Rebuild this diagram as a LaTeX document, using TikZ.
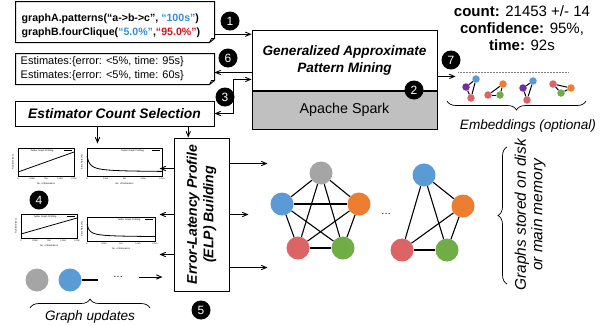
\documentclass[tikz,border=0pt]{standalone}
\usepackage{fontspec}
\setmainfont{Liberation Sans}
\usetikzlibrary{positioning,arrows,calc,decorations.pathreplacing}
\definecolor{vblue}{HTML}{5B9BD5}
\definecolor{vorange}{HTML}{ED7D31}
\definecolor{vgray}{HTML}{A5A5A5}
\definecolor{vred}{HTML}{DC6464}
\definecolor{vgreen}{HTML}{70AD47}
\definecolor{vpurple}{HTML}{7030A0}
\definecolor{qblue}{HTML}{3A8AD0}
\definecolor{qred}{HTML}{D0101B}
\definecolor{spark}{HTML}{C0C0C0}
\tikzset{
    x=1pt,
    y=-1pt,
    >=angle 45,
    block/.style = {
        shape=rectangle,
        inner sep=0pt,
        line width=1pt
    },
    badge/.style = {
        shape=circle,
        fill=black,
        text=white,
        minimum size=19pt,
        inner sep=0pt,
        font=\fontsize{12}{12}\selectfont
    },
    vtx/.style = {
        shape=circle,
        minimum size=23pt,
        inner sep=0pt
    },
    evtx/.style = {
        shape=circle,
        minimum size=7.5pt,
        inner sep=0pt
    },
    edge/.style = {draw, line width=1.1pt},
    link/.style = {draw, line width=0.9pt},
    tinytext/.style = {inner sep=0pt, font=\fontsize{2.3}{2.5}\selectfont},
    pics/rtplot/.style 2 args = {code={
        \draw[line width=0.7pt] (0,0) rectangle (#1,#2);
        \draw[line width=0.8pt] (0,#2-4) -- (#1,4);
        \node[tinytext] at (#1/2-4,2.5) {Twitter Graph Profiling};
        \draw[line width=1pt] (#1-10,2.5) -- (#1-2,2.5);
        \node[tinytext,rotate=90] at (-5,#2/2) {Runtime (sec)};
        \foreach \tk [count=\i from 0] in {0,0.5M,1M,1.5M,2.1M}
            \node[tinytext] at (\i*#1/4,#2+3) {\tk};
        \node[tinytext] at (#1/2,#2+8) {No. of Estimators};
    }},
    pics/errplot/.style 2 args = {code={
        \draw[line width=0.7pt] (0,0) rectangle (#1,#2);
        \draw[line width=0.8pt] plot[domain=0:#1, samples=50] (\x, {#2-4-0.8*(#2-8)/(\x/#1+0.04)/25});
        \node[tinytext] at (#1/2+8,2.5) {Twitter Graph Profiling};
        \draw[line width=1pt] (#1-10,2.5) -- (#1-2,2.5);
        \node[tinytext,rotate=90] at (-5,#2/2) {Error Rate (\%)};
        \foreach \tk [count=\i from 0] in {0,0.5m,1m,1.5m,2.1m}
            \node[tinytext] at (\i*#1/4,#2+3) {\tk};
        \node[tinytext] at (#1/2,#2+8) {No. of Estimators};
    }},
}

\begin{document}
\begin{tikzpicture}
    \useasboundingbox (0,0) rectangle (609,325);

    % boxes on the left
    \node[block, minimum width=198pt, minimum height=40pt] (query) at (115,22) {};
    \node[block, minimum width=198pt, minimum height=30pt] (est) at (115,69) {};
    \node[block, draw, minimum width=199pt, minimum height=25pt,
          font=\fontsize{13.8}{14}\selectfont\bfseries\itshape] (sel) at (114.5,113.5) {Estimator Count Selection};
    \draw[line width=1pt] (query.north west) -- (query.north east) -- ($(query.south east)+(0,-4)$)
        -- ($(query.south east)+(-5,0)$) -- (query.south west) -- cycle;
    \draw[line width=0.8pt] ($(query.south east)+(-5,0)$) -- ($(query.south east)+(-3,-4)$) -- ($(query.south east)+(0,-4)$);
    \draw[line width=1pt] (est.north west) -- (est.north east) -- ($(est.south east)+(0,-4)$)
        -- ($(est.south east)+(-5,0)$) -- (est.south west) -- cycle;
    \draw[line width=0.8pt] ($(est.south east)+(-5,0)$) -- ($(est.south east)+(-3,-4)$) -- ($(est.south east)+(0,-4)$);
    \node[anchor=west, align=left, inner sep=0pt, font=\fontsize{10.6}{14}\selectfont\bfseries] (qtext) at ($(query.west)+(6,4)$)
        {graphA.patterns(“a->b->c”, \textcolor{qblue}{“100s”})\\
         graphB.fourClique(\textcolor{qblue}{“5.0\%”},\textcolor{qred}{“95.0\%”})};
    \node[anchor=west, align=left, inner sep=0pt, font=\fontsize{11}{14}\selectfont] (etext) at ($(est.west)+(5,0)$)
        {Estimates:\{error: <5\%, time: 95s\}\\
         Estimates:\{error: <5\%, time: 60s\}};

    % mining engine
    \node[block, draw, minimum width=185pt, minimum height=60pt, align=center,
          font=\fontsize{13.6}{17}\selectfont\bfseries\itshape] (gapm) at (344.5,60) {Generalized Approximate\\Pattern Mining};
    \node[block, draw, fill=spark, minimum width=185pt, minimum height=38pt,
          font=\fontsize{14.3}{14}\selectfont, below=0pt of gapm] (spark) {Apache Spark};

    % profile building
    \node[block, draw, minimum width=55pt, minimum height=153pt] (elp) at (201.5,214.5) {};
    \node[rotate=90, align=center, inner sep=0pt, font=\fontsize{14}{16.5}\selectfont\bfseries\itshape] (elptext) at (elp.center)
        {Error-Latency Profile\\(ELP) Building};

    % profiles
    \pic at (18,148) {rtplot={56}{28}};
    \pic at (87,148) {errplot={75}{28}};
    \pic at (21,214) {rtplot={56}{24}};
    \pic at (87,217) {errplot={68}{24}};

    % result
    \node[align=center, inner sep=0pt, font=\fontsize{15}{17}\selectfont] (res) at (522,28)
        {\textbf{count:} 21453 +/- 14\\\textbf{confidence:} 95\%,\\\textbf{time:} 92s};
    \draw[densely dotted, gray, line width=0.5pt] (458,72) -- (568,72);

    % embeddings
    \node[evtx, fill=vpurple] (p1) at (466,87) {};
    \node[evtx, fill=vblue] (b1) at (476,79) {};
    \node[evtx, fill=vred] (r1) at (471,98) {};
    \node[evtx, fill=vred] (r2) at (488,95) {};
    \node[evtx, fill=vgreen] (g2) at (500,95) {};
    \node[evtx, fill=vorange] (o2) at (503,84) {};
    \node[evtx, fill=vpurple] (p3) at (523,88) {};
    \node[evtx, fill=vblue] (b3) at (533,81) {};
    \node[evtx, fill=vred] (r3) at (527,100) {};
    \node[evtx, fill=vred] (r4) at (553,84) {};
    \node[evtx, fill=vorange] (o4) at (571,88) {};
    \node[evtx, fill=vgreen] (g4) at (561,93) {};
    \foreach \a/\b in {p1/b1,p1/r1,b1/r1,r2/g2,r2/o2,g2/o2,p3/b3,p3/r3,b3/r3,r4/o4,r4/g4,o4/g4}
        \path[draw, line width=1pt] (\a) -- (\b);
    \draw[decorate, decoration={brace, amplitude=9pt}, line width=0.7pt] (586,101) -- (447,101);
    \node[font=\fontsize{13.6}{14}\selectfont\itshape] (embtext) at (528,126) {Embeddings (optional)};

    % graphs
    \node[vtx, fill=vgray] (ga) at (321,173) {};
    \node[vtx, fill=vblue] (gb) at (282,204) {};
    \node[vtx, fill=vorange] (gc) at (359,204) {};
    \node[vtx, fill=vred] (gd) at (298,248) {};
    \node[vtx, fill=vgreen] (ge) at (343,248) {};
    \foreach \a/\b in {ga/gb,ga/gc,ga/gd,ga/ge,gb/gc,gb/gd,gb/ge,gc/gd,gc/ge,gd/ge}
        \path[edge] (\a) -- (\b);
    \node (gdots1) at (386,214) {\dots};
    \node[vtx, fill=vblue] (hb) at (424,175) {};
    \node[vtx, fill=vorange] (hc) at (463,206) {};
    \node[vtx, fill=vred] (hd) at (402,250) {};
    \node[vtx, fill=vgreen] (he) at (447,250) {};
    \foreach \a/\b in {hb/hc,hb/hd,hb/he,hc/hd,hc/he,hd/he}
        \path[edge] (\a) -- (\b);
    \draw[decorate, decoration={brace, amplitude=9pt}, line width=0.7pt] (507,284) -- (507,147);
    \node[rotate=90, align=center, font=\fontsize{15.5}{16.5}\selectfont\itshape] (store) at (530,215)
        {Graphs stored on disk\\or main memory};

    % graph updates
    \node[vtx, fill=vgray] (u1) at (37,280) {};
    \node[vtx, fill=vblue] (u2) at (70,280) {};
    \path[edge] (u2.east) -- ++(16,0);
    \node (gdots2) at (118,277) {\dots};
    \draw[decorate, decoration={brace, amplitude=9pt}, line width=0.7pt] (30,308) -- (150,308);
    \node[font=\fontsize{13.6}{14}\selectfont\itshape] (updtext) at (90,317) {Graph updates};

    % badges
    \node[badge] (bdg1) at (230,21) {1};
    \node[badge] (bdg2) at (414,90) {2};
    \node[badge] (bdg3) at (225,97) {3};
    \node[badge] (bdg4) at (39,200) {4};
    \node[badge] (bdg5) at (201,310) {5};
    \node[badge] (bdg6) at (228,58) {6};
    \node[badge] (bdg7) at (451,60) {7};

    % connectors
    \path[link, ->] (query.-7) -- (query.-7 -| gapm.west);
    \path[link, ->] (est.-2 -| gapm.west) -- (est.-2);
    \path[link, <->] (sel.east) -- ++(19,0) |- (est.-6 -| gapm.west);
    \path[link, ->] (gapm.-10) -- ++(18,0);
    \path[link, ->] ($(sel.south)+(-17,0)$) -- ++(0,17);
    \path[link, ->] (sel.-10) -- (sel.-10 |- elp.north);
    \path[link, ->] ($(elp.west)+(0,-46)$) -- ++(-14,0);
    \path[link, ->] (elp.west) -- ++(-14,0);
    \path[link, ->] ($(elp.west)+(0,40)$) -- ++(-14,0);
    \path[link, ->] ($(elp.east)+(0,-51)$) -- ++(38,0);
    \path[link, ->] (elp.east) -- ++(19,0);
    \path[link, ->] ($(elp.east)+(0,53)$) -- ++(38,0);
    \path[link, ->, shorten <=12pt, shorten >=11pt] (gdots2.east) -- (gdots2.east -| elp.west);
\end{tikzpicture}
\end{document}
